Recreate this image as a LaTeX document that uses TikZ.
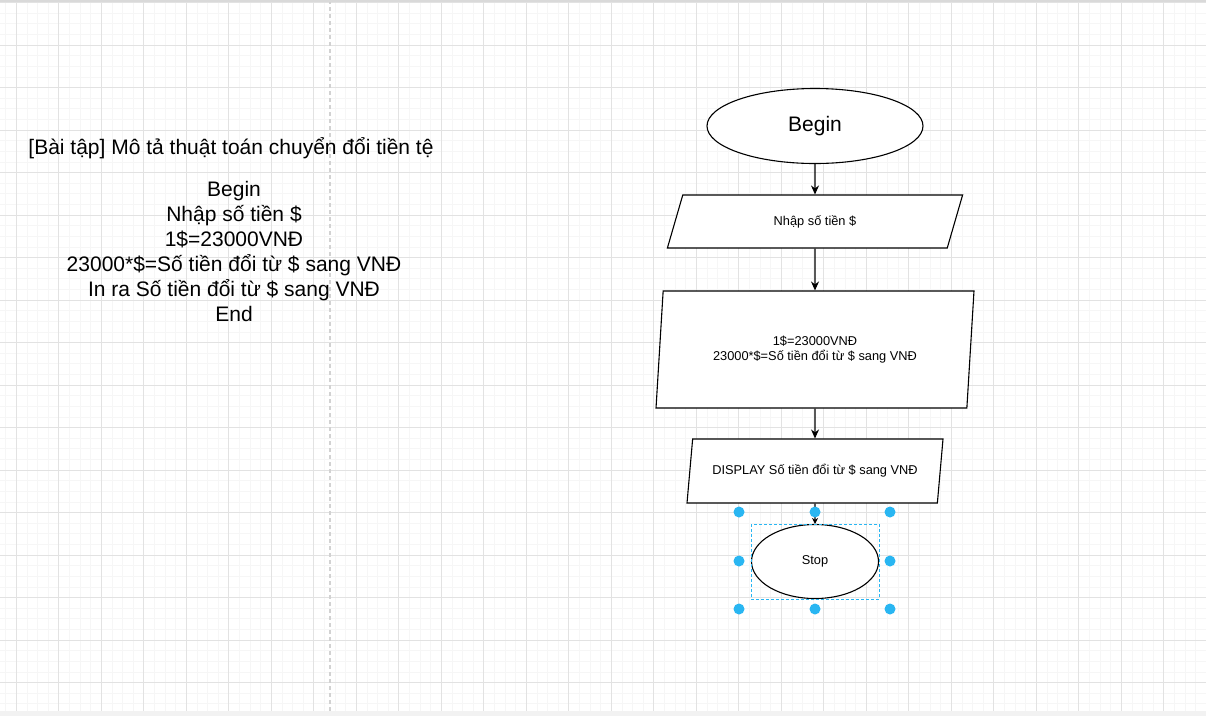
\documentclass[tikz,border=0pt]{standalone}
\usepackage{fontspec}
\setmainfont{Liberation Sans}
\usetikzlibrary{shapes,arrows.meta}
\definecolor{gridmajor}{HTML}{E2E2E2}
\definecolor{gridminor}{HTML}{F6F6F6}
\definecolor{handle}{HTML}{29B6F2}

\begin{document}
\begin{tikzpicture}[x=1pt,y=-1pt]
\tikzstyle{term}=[ellipse,draw,line width=1.1pt,fill=white,inner sep=0pt]
\tikzstyle{io}=[trapezium,trapezium stretches,draw,line width=1.1pt,fill=white,inner sep=0pt,align=center]
\tikzstyle{flow}=[-{Stealth[length=9pt,width=8pt]},line width=1.1pt]
\tikzstyle{big}=[font=\fontsize{21}{25}\selectfont]
\tikzstyle{small}=[font=\fontsize{12.8}{15}\selectfont]
\useasboundingbox (0,0) rectangle (1206,716);
\fill[white] (0,0) rectangle (1206,716);
% grid
\foreach \i in {-2,...,112}
  \draw[gridminor,line width=0.7pt] ({16.3+\i*10.625},0) -- ({16.3+\i*10.625},716);
\foreach \j in {0,...,67}
  \draw[gridminor,line width=0.7pt] (0,{2.5+\j*10.625}) -- (1206,{2.5+\j*10.625});
\foreach \i in {0,...,28}
  \draw[gridmajor,line width=1pt] ({16.3+\i*42.5},0) -- ({16.3+\i*42.5},716);
\foreach \j in {0,...,16}
  \draw[gridmajor,line width=1pt] (0,{2.5+\j*42.5}) -- (1206,{2.5+\j*42.5});
\draw[gray!35,line width=1.2pt,dash pattern=on 4pt off 3pt] (330,0) -- (330,716);
\draw[gray!30,line width=2pt] (0,1) -- (1206,1);
\fill[gray!10] (0,711) rectangle (1206,716);

% left description
\node[big] (title) at (231,148) {[Bài tập] Mô tả thuật toán chuyển đổi tiền tệ};
\node[big,align=center] (algo) at (234,251) {Begin\\Nhập số tiền \$\\1\$=23000VNĐ\\23000*\$=Số tiền đổi từ \$ sang VNĐ\\In ra Số tiền đổi từ \$ sang VNĐ\\End};

% flowchart
\node[term,minimum width=216pt,minimum height=75pt,font=\fontsize{21}{25}\selectfont] (begin) at (815,126) {Begin};
\node[io,small,trapezium left angle=69,trapezium right angle=111,minimum width=297pt,minimum height=53pt] (input) at (815,221.5) {Nhập số tiền \$};
\node[io,small,trapezium left angle=80,trapezium right angle=100,minimum width=319pt,minimum height=117pt] (calc) at (815,349.5) {1\$=23000VNĐ\\23000*\$=Số tiền đổi từ \$ sang VNĐ};
\node[io,small,trapezium left angle=70,trapezium right angle=110,minimum width=256pt,minimum height=64pt] (display) at (815,471) {DISPLAY Số tiền đổi từ \$ sang VNĐ};
\node[term,small,minimum width=127pt,minimum height=74pt] (stop) at (815,561.5) {Stop};

\draw[flow] (begin) -- (input);
\draw[flow] (input) -- (calc);
\draw[flow] (calc) -- (display);
\draw[-{Stealth[length=6pt,width=6pt]},line width=1.1pt] (display) -- (stop);

% selection
\draw[handle,line width=0.9pt,dash pattern=on 3pt off 2pt] (751,524) rectangle (879,599);
\foreach \hx/\hy in {739/512,815/512,890/512,739/561,890/561,739/609,815/609,890/609}
  \fill[handle] (\hx,\hy) circle (5.5pt);
\end{tikzpicture}
\end{document}
